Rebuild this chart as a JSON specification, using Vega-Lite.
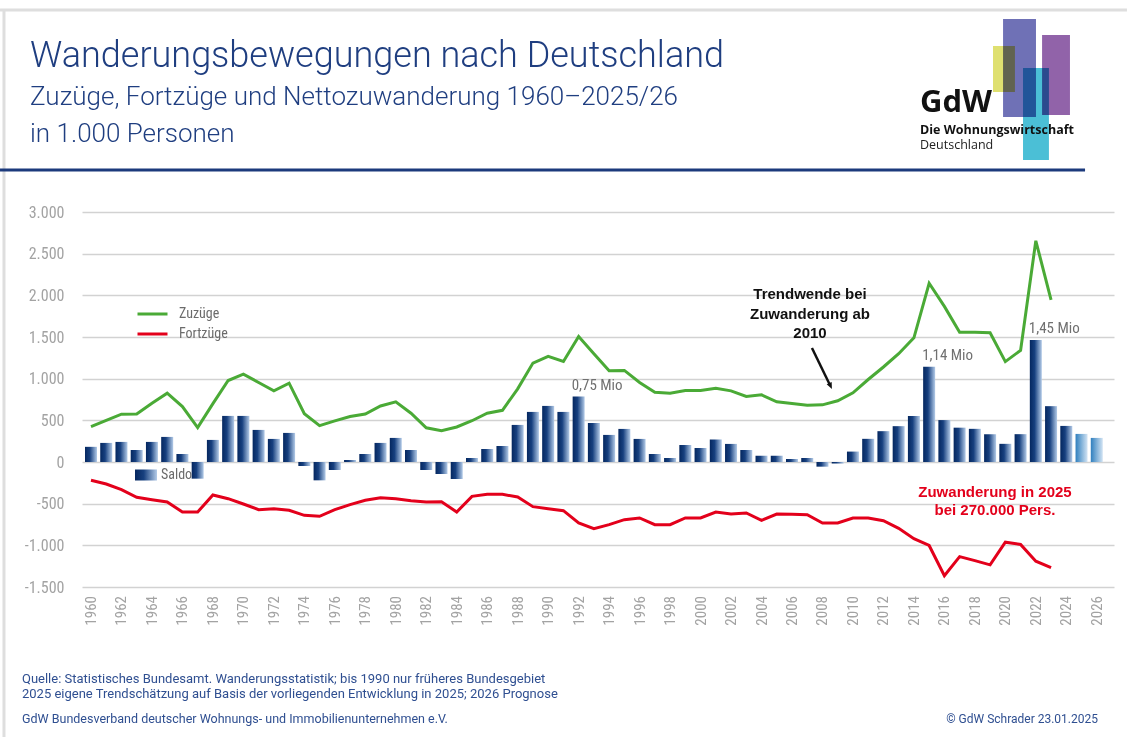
{
  "$schema": "https://vega.github.io/schema/vega-lite/v6.json",
  "autosize": {"type": "none"},
  "width": 1032,
  "height": 375,
  "padding": {"left": 82, "top": 212, "right": 13, "bottom": 150},
  "background": "#ffffff",
  "config": {
    "view": {"stroke": null},
    "locale": {"number": {"decimal": ",", "thousands": ".", "grouping": [3], "currency": ["", " €"], "minus": "-"}},
    "axis": {"labelFont": "Liberation Sans Narrow, Roboto Condensed, DejaVu Sans Condensed, Roboto", "labelColor": "#a3a3a3", "ticks": false, "domain": false},
    "scale": {"continuousPadding": 0}
  },
  "data": {"values": [
    {"Jahr": 1960, "Zuzüge": 425, "Fortzüge": -220, "Saldo": 182},
    {"Jahr": 1961, "Zuzüge": 500, "Fortzüge": -264, "Saldo": 229},
    {"Jahr": 1962, "Zuzüge": 574, "Fortzüge": -332, "Saldo": 241},
    {"Jahr": 1963, "Zuzüge": 577, "Fortzüge": -424, "Saldo": 144},
    {"Jahr": 1964, "Zuzüge": 706, "Fortzüge": -452, "Saldo": 241},
    {"Jahr": 1965, "Zuzüge": 826, "Fortzüge": -480, "Saldo": 301},
    {"Jahr": 1966, "Zuzüge": 665, "Fortzüge": -600, "Saldo": 96},
    {"Jahr": 1967, "Zuzüge": 413, "Fortzüge": -600, "Saldo": -200},
    {"Jahr": 1968, "Zuzüge": 700, "Fortzüge": -396, "Saldo": 265},
    {"Jahr": 1969, "Zuzüge": 978, "Fortzüge": -440, "Saldo": 553},
    {"Jahr": 1970, "Zuzüge": 1055, "Fortzüge": -504, "Saldo": 553},
    {"Jahr": 1971, "Zuzüge": 954, "Fortzüge": -572, "Saldo": 385},
    {"Jahr": 1972, "Zuzüge": 854, "Fortzüge": -560, "Saldo": 277},
    {"Jahr": 1973, "Zuzüge": 946, "Fortzüge": -580, "Saldo": 349},
    {"Jahr": 1974, "Zuzüge": 580, "Fortzüge": -640, "Saldo": -48},
    {"Jahr": 1975, "Zuzüge": 437, "Fortzüge": -652, "Saldo": -220},
    {"Jahr": 1976, "Zuzüge": 493, "Fortzüge": -572, "Saldo": -96},
    {"Jahr": 1977, "Zuzüge": 545, "Fortzüge": -512, "Saldo": 24},
    {"Jahr": 1978, "Zuzüge": 575, "Fortzüge": -460, "Saldo": 96},
    {"Jahr": 1979, "Zuzüge": 672, "Fortzüge": -428, "Saldo": 229},
    {"Jahr": 1980, "Zuzüge": 722, "Fortzüge": -440, "Saldo": 289},
    {"Jahr": 1981, "Zuzüge": 585, "Fortzüge": -464, "Saldo": 144},
    {"Jahr": 1982, "Zuzüge": 410, "Fortzüge": -480, "Saldo": -96},
    {"Jahr": 1983, "Zuzüge": 375, "Fortzüge": -476, "Saldo": -144},
    {"Jahr": 1984, "Zuzüge": 420, "Fortzüge": -600, "Saldo": -204},
    {"Jahr": 1985, "Zuzüge": 495, "Fortzüge": -412, "Saldo": 48},
    {"Jahr": 1986, "Zuzüge": 585, "Fortzüge": -388, "Saldo": 156},
    {"Jahr": 1987, "Zuzüge": 620, "Fortzüge": -388, "Saldo": 192},
    {"Jahr": 1988, "Zuzüge": 878, "Fortzüge": -420, "Saldo": 445},
    {"Jahr": 1989, "Zuzüge": 1187, "Fortzüge": -536, "Saldo": 601},
    {"Jahr": 1990, "Zuzüge": 1267, "Fortzüge": -560, "Saldo": 673},
    {"Jahr": 1991, "Zuzüge": 1207, "Fortzüge": -584, "Saldo": 601},
    {"Jahr": 1992, "Zuzüge": 1507, "Fortzüge": -730, "Saldo": 785, "label": "0,75 Mio"},
    {"Jahr": 1993, "Zuzüge": 1300, "Fortzüge": -800, "Saldo": 469},
    {"Jahr": 1994, "Zuzüge": 1095, "Fortzüge": -752, "Saldo": 325},
    {"Jahr": 1995, "Zuzüge": 1099, "Fortzüge": -692, "Saldo": 397},
    {"Jahr": 1996, "Zuzüge": 954, "Fortzüge": -672, "Saldo": 277},
    {"Jahr": 1997, "Zuzüge": 838, "Fortzüge": -752, "Saldo": 96},
    {"Jahr": 1998, "Zuzüge": 826, "Fortzüge": -752, "Saldo": 48},
    {"Jahr": 1999, "Zuzüge": 858, "Fortzüge": -672, "Saldo": 204},
    {"Jahr": 2000, "Zuzüge": 858, "Fortzüge": -672, "Saldo": 168},
    {"Jahr": 2001, "Zuzüge": 886, "Fortzüge": -600, "Saldo": 270},
    {"Jahr": 2002, "Zuzüge": 854, "Fortzüge": -624, "Saldo": 217},
    {"Jahr": 2003, "Zuzüge": 786, "Fortzüge": -612, "Saldo": 144},
    {"Jahr": 2004, "Zuzüge": 806, "Fortzüge": -700, "Saldo": 75},
    {"Jahr": 2005, "Zuzüge": 722, "Fortzüge": -624, "Saldo": 75},
    {"Jahr": 2006, "Zuzüge": 702, "Fortzüge": -628, "Saldo": 36},
    {"Jahr": 2007, "Zuzüge": 682, "Fortzüge": -632, "Saldo": 48},
    {"Jahr": 2008, "Zuzüge": 686, "Fortzüge": -732, "Saldo": -56},
    {"Jahr": 2009, "Zuzüge": 735, "Fortzüge": -732, "Saldo": -18},
    {"Jahr": 2010, "Zuzüge": 830, "Fortzüge": -672, "Saldo": 125},
    {"Jahr": 2011, "Zuzüge": 990, "Fortzüge": -672, "Saldo": 278},
    {"Jahr": 2012, "Zuzüge": 1140, "Fortzüge": -705, "Saldo": 370},
    {"Jahr": 2013, "Zuzüge": 1300, "Fortzüge": -796, "Saldo": 430},
    {"Jahr": 2014, "Zuzüge": 1490, "Fortzüge": -920, "Saldo": 552},
    {"Jahr": 2015, "Zuzüge": 2145, "Fortzüge": -1002, "Saldo": 1142, "label": "1,14 Mio"},
    {"Jahr": 2016, "Zuzüge": 1867, "Fortzüge": -1364, "Saldo": 503},
    {"Jahr": 2017, "Zuzüge": 1558, "Fortzüge": -1136, "Saldo": 412},
    {"Jahr": 2018, "Zuzüge": 1556, "Fortzüge": -1184, "Saldo": 398},
    {"Jahr": 2019, "Zuzüge": 1550, "Fortzüge": -1234, "Saldo": 333},
    {"Jahr": 2020, "Zuzüge": 1205, "Fortzüge": -962, "Saldo": 218},
    {"Jahr": 2021, "Zuzüge": 1340, "Fortzüge": -990, "Saldo": 334},
    {"Jahr": 2022, "Zuzüge": 2655, "Fortzüge": -1190, "Saldo": 1465, "label": "1,45 Mio"},
    {"Jahr": 2023, "Zuzüge": 1945, "Fortzüge": -1268, "Saldo": 670},
    {"Jahr": 2024, "Saldo": 433},
    {"Jahr": 2025, "Saldo": 337},
    {"Jahr": 2026, "Saldo": 289}
  ]},
  "layer": [
    {
      "transform": [{"filter": "datum.Jahr <= 2024"}],
      "mark": {"type": "bar", "width": 12, "fill": {"gradient": "linear", "x1": 0, "y1": 0, "x2": 1, "y2": 0, "stops": [{"offset": 0, "color": "#05275f"}, {"offset": 0.4, "color": "#17407f"}, {"offset": 1, "color": "#b3cbe8"}]}},
      "encoding": {
        "x": {"field": "Jahr", "type": "quantitative", "title": null, "scale": {"domain": [1959.41, 2027.13], "nice": false, "zero": false, "padding": 0},
          "axis": {"title": null, "labels": false, "grid": false, "ticks": false, "domain": false}},
        "y": {"field": "Saldo", "type": "quantitative", "title": null, "scale": {"domain": [-1500, 3000], "nice": false, "zero": false},
          "axis": {"title": null, "values": [-1500,-1000,-500,0,500,1000,1500,2000,2500,3000], "format": ",d", "labelFontSize": 16, "labelPadding": 18, "grid": true, "gridColor": "#d2d2d2", "gridWidth": 1.5}},
        "y2": {"datum": 0},
        "opacity": {"datum": "Saldo", "type": "ordinal", "scale": {"range": [1]},
          "legend": {"orient": "none", "legendX": 53, "legendY": 252, "title": null, "padding": 0, "offset": 0,
            "symbolType": "M-1,-0.5H1V0.5H-1Z", "symbolSize": 484, "symbolStrokeWidth": 0, "labelOffset": 4,
            "labelFont": "Liberation Sans Narrow, Roboto Condensed, DejaVu Sans Condensed, Roboto", "labelFontSize": 14, "labelColor": "#6b6b6b",
            "encode": {"symbols": {"update": {"fill": {"value": {"gradient": "linear", "x1": 0, "y1": 0, "x2": 1, "y2": 0, "stops": [{"offset": 0, "color": "#05275f"}, {"offset": 0.4, "color": "#17407f"}, {"offset": 1, "color": "#b3cbe8"}]}}, "opacity": {"value": 1}, "strokeWidth": {"value": 0}}}}}}
      }
    },
    {
      "transform": [{"filter": "datum.Jahr % 2 == 0"}],
      "mark": {"type": "text", "angle": -90, "align": "right", "baseline": "middle", "dx": -9, "font": "Liberation Sans Narrow, Roboto Condensed, DejaVu Sans Condensed, Roboto", "fontSize": 15, "color": "#a3a3a3"},
      "encoding": {
        "x": {"field": "Jahr", "type": "quantitative", "title": null},
        "y": {"datum": -1500, "type": "quantitative", "title": null},
        "text": {"field": "Jahr", "type": "quantitative", "format": "d"}
      }
    },
    {
      "data": {"values": [{}]},
      "mark": {"type": "rule", "color": "#dedede", "strokeWidth": 3},
      "encoding": {
        "x": {"datum": 1954.03, "type": "quantitative", "title": null},
        "x2": {"datum": 2027.98},
        "y": {"datum": 5424, "type": "quantitative", "title": null}
      }
    },
    {
      "data": {"values": [{}]},
      "mark": {"type": "rule", "color": "#dedede", "strokeWidth": 3},
      "encoding": {
        "x": {"datum": 1954.29, "type": "quantitative", "title": null},
        "y": {"datum": 5424, "type": "quantitative", "title": null},
        "y2": {"datum": -3300}
      }
    },
    {
      "data": {"values": [{}]},
      "mark": {"type": "text", "text": "Wanderungsbewegungen nach Deutschland", "font": "Roboto", "fontSize": 36, "fontWeight": 300, "color": "#1f3e80", "align": "left", "baseline": "alphabetic"},
      "encoding": {
        "x": {"datum": 1956.0, "type": "quantitative", "title": null},
        "y": {"datum": 4740, "type": "quantitative", "title": null}
      }
    },
    {
      "data": {"values": [{}]},
      "mark": {"type": "text", "text": "Zuzüge, Fortzüge und Nettozuwanderung 1960–2025/26", "font": "Roboto", "fontSize": 26, "fontWeight": 300, "color": "#1f3e80", "align": "left", "baseline": "alphabetic"},
      "encoding": {
        "x": {"datum": 1956.0, "type": "quantitative", "title": null},
        "y": {"datum": 4284, "type": "quantitative", "title": null}
      }
    },
    {
      "data": {"values": [{}]},
      "mark": {"type": "text", "text": "in 1.000 Personen", "font": "Roboto", "fontSize": 26, "fontWeight": 300, "color": "#1f3e80", "align": "left", "baseline": "alphabetic"},
      "encoding": {
        "x": {"datum": 1956.0, "type": "quantitative", "title": null},
        "y": {"datum": 3840, "type": "quantitative", "title": null}
      }
    },
    {
      "data": {"values": [{}]},
      "mark": {"type": "rule", "color": "#1c3a7c", "strokeWidth": 3},
      "encoding": {
        "x": {"datum": 1954.03, "type": "quantitative", "title": null},
        "x2": {"datum": 2025.23},
        "y": {"datum": 3504, "type": "quantitative", "title": null}
      }
    },
    {
      "data": {"values": [{}]},
      "mark": {"type": "rect", "color": "#6f71b6"},
      "encoding": {
        "x": {"datum": 2019.85, "type": "quantitative", "title": null},
        "x2": {"datum": 2022.01},
        "y": {"datum": 5316, "type": "quantitative", "title": null},
        "y2": {"datum": 4140}
      }
    },
    {
      "data": {"values": [{}]},
      "mark": {"type": "rect", "color": "#dfe070", "blend": "multiply"},
      "encoding": {
        "x": {"datum": 2019.19, "type": "quantitative", "title": null},
        "x2": {"datum": 2020.63},
        "y": {"datum": 4992, "type": "quantitative", "title": null},
        "y2": {"datum": 4440}
      }
    },
    {
      "data": {"values": [{}]},
      "mark": {"type": "rect", "color": "#9163a9"},
      "encoding": {
        "x": {"datum": 2022.41, "type": "quantitative", "title": null},
        "x2": {"datum": 2024.24},
        "y": {"datum": 5124, "type": "quantitative", "title": null},
        "y2": {"datum": 4164}
      }
    },
    {
      "data": {"values": [{}]},
      "mark": {"type": "rect", "color": "#4bbfd6", "blend": "multiply"},
      "encoding": {
        "x": {"datum": 2021.16, "type": "quantitative", "title": null},
        "x2": {"datum": 2022.86},
        "y": {"datum": 4728, "type": "quantitative", "title": null},
        "y2": {"datum": 3624}
      }
    },
    {
      "data": {"values": [{}]},
      "mark": {"type": "text", "text": "GdW", "font": "Open Sans", "fontSize": 31, "fontWeight": "bold", "color": "#111111", "align": "left", "baseline": "alphabetic"},
      "encoding": {
        "x": {"datum": 2014.40, "type": "quantitative", "title": null},
        "y": {"datum": 4200, "type": "quantitative", "title": null}
      }
    },
    {
      "data": {"values": [{}]},
      "mark": {"type": "text", "text": "Die Wohnungswirtschaft", "font": "Open Sans", "fontSize": 12.5, "fontWeight": "bold", "color": "#111111", "align": "left", "baseline": "alphabetic"},
      "encoding": {
        "x": {"datum": 2014.40, "type": "quantitative", "title": null},
        "y": {"datum": 3936, "type": "quantitative", "title": null}
      }
    },
    {
      "data": {"values": [{}]},
      "mark": {"type": "text", "text": "Deutschland", "font": "Open Sans", "fontSize": 12.5, "color": "#222222", "align": "left", "baseline": "alphabetic"},
      "encoding": {
        "x": {"datum": 2014.40, "type": "quantitative", "title": null},
        "y": {"datum": 3756, "type": "quantitative", "title": null}
      }
    },
    {
      "transform": [{"filter": "datum.Jahr >= 2025"}],
      "mark": {"type": "bar", "width": 12, "fill": {"gradient": "linear", "x1": 0, "y1": 0, "x2": 1, "y2": 0, "stops": [{"offset": 0, "color": "#2f7fbe"}, {"offset": 1, "color": "#d2e3f3"}]}},
      "encoding": {
        "x": {"field": "Jahr", "type": "quantitative", "title": null},
        "y": {"field": "Saldo", "type": "quantitative", "title": null},
        "y2": {"datum": 0}
      }
    },
    {
      "transform": [
        {"fold": ["Zuzüge", "Fortzüge"], "as": ["Reihe", "Wert"]},
        {"filter": "isValid(datum.Wert)"}
      ],
      "mark": {"type": "line", "strokeWidth": 3, "strokeJoin": "miter"},
      "encoding": {
        "x": {"field": "Jahr", "type": "quantitative", "title": null},
        "y": {"field": "Wert", "type": "quantitative", "title": null},
        "stroke": {"field": "Reihe", "type": "nominal",
          "scale": {"domain": ["Zuzüge", "Fortzüge"], "range": ["#4aaa36", "#e3001b"]},
          "legend": {"orient": "none", "legendX": 54, "legendY": 92, "title": null, "padding": 0, "offset": 0,
            "symbolType": "stroke", "symbolSize": 900, "symbolStrokeWidth": 3, "labelOffset": 10, "rowPadding": 0, "clipHeight": 20,
            "labelFont": "Liberation Sans Narrow, Roboto Condensed, DejaVu Sans Condensed, Roboto", "labelFontSize": 14, "labelColor": "#6b6b6b"}}
      }
    },
    {
      "transform": [{"filter": "isValid(datum.label)"}],
      "mark": {"type": "text", "align": "left", "baseline": "bottom", "dx": -7, "dy": -4, "font": "Liberation Sans Narrow, Roboto Condensed, DejaVu Sans Condensed, Roboto", "fontSize": 15, "color": "#707070"},
      "encoding": {
        "x": {"field": "Jahr", "type": "quantitative", "title": null},
        "y": {"field": "Saldo", "type": "quantitative", "title": null},
        "text": {"field": "label"}
      }
    },
    {
      "data": {"values": [{}]},
      "mark": {"type": "text", "text": ["Trendwende bei", "Zuwanderung ab", "2010"], "lineHeight": 19.5, "align": "center", "baseline": "middle", "font": "Liberation Sans", "fontSize": 15, "fontWeight": "bold", "color": "#111111"},
      "encoding": {
        "x": {"datum": 2007.18, "type": "quantitative", "title": null},
        "y": {"datum": 2016, "type": "quantitative", "title": null}
      }
    },
    {
      "data": {"values": [{}]},
      "mark": {"type": "rule", "color": "#111111", "strokeWidth": 2.5},
      "encoding": {
        "x": {"datum": 2007.31, "type": "quantitative", "title": null},
        "x2": {"datum": 2008.49},
        "y": {"datum": 1368, "type": "quantitative", "title": null},
        "y2": {"datum": 924}
      }
    },
    {
      "data": {"values": [{}]},
      "mark": {"type": "point", "shape": "M0,0L-0.55,-1.3L0.55,-1.3Z", "size": 100, "filled": true, "color": "#111111", "opacity": 1, "angle": -25},
      "encoding": {
        "x": {"datum": 2008.62, "type": "quantitative", "title": null},
        "y": {"datum": 876, "type": "quantitative", "title": null}
      }
    },
    {
      "data": {"values": [{}]},
      "mark": {"type": "text", "text": ["Zuwanderung in 2025", "bei 270.000 Pers."], "lineHeight": 18, "align": "center", "baseline": "middle", "font": "Liberation Sans", "fontSize": 15, "fontWeight": "bold", "color": "#e3001b"},
      "encoding": {
        "x": {"datum": 2019.32, "type": "quantitative", "title": null},
        "y": {"datum": -360, "type": "quantitative", "title": null}
      }
    },
    {
      "data": {"values": [{}]},
      "mark": {"type": "text", "text": ["Quelle: Statistisches Bundesamt. Wanderungsstatistik; bis 1990 nur früheres Bundesgebiet", "2025 eigene Trendschätzung auf Basis der vorliegenden Entwicklung in 2025; 2026 Prognose"], "lineHeight": 15, "align": "left", "baseline": "middle", "font": "Roboto", "fontSize": 13, "color": "#2f4f91"},
      "encoding": {
        "x": {"datum": 1955.47, "type": "quantitative", "title": null},
        "y": {"datum": -2604, "type": "quantitative", "title": null}
      }
    },
    {
      "data": {"values": [{}]},
      "mark": {"type": "text", "text": "GdW Bundesverband deutscher Wohnungs- und Immobilienunternehmen e.V.", "align": "left", "baseline": "middle", "font": "Roboto", "fontSize": 12.5, "color": "#2f4f91"},
      "encoding": {
        "x": {"datum": 1955.47, "type": "quantitative", "title": null},
        "y": {"datum": -3084, "type": "quantitative", "title": null}
      }
    },
    {
      "data": {"values": [{}]},
      "mark": {"type": "text", "text": "© GdW Schrader 23.01.2025", "align": "right", "baseline": "middle", "font": "Roboto", "fontSize": 12, "color": "#2f4f91"},
      "encoding": {
        "x": {"datum": 2026.08, "type": "quantitative", "title": null},
        "y": {"datum": -3084, "type": "quantitative", "title": null}
      }
    }
  ]
}
